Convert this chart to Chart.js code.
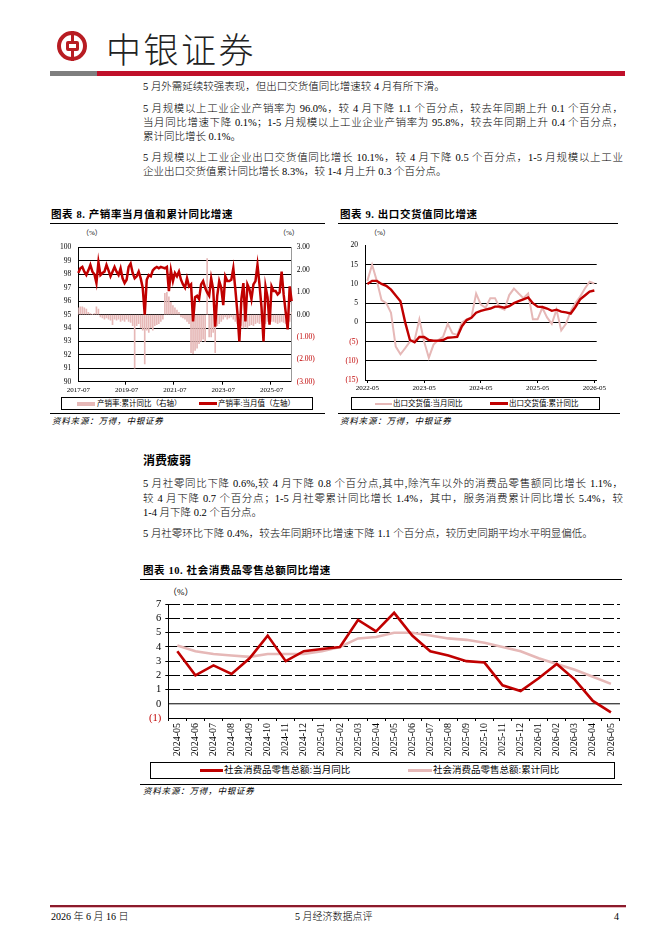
<!DOCTYPE html>
<html>
<head>
<meta charset="utf-8">
<script src="https://cdn.jsdelivr.net/npm/chart.js@4.4.1/dist/chart.umd.min.js"></script>
<style>
body{margin:0;background:#fff;}
#page{position:relative;width:662px;height:936px;overflow:hidden;font-family:"Liberation Serif","Noto Sans CJK SC",serif;color:#000;}
.a{position:absolute;}
.ln{position:absolute;left:143px;width:480px;font-size:10.5px;line-height:14px;white-space:nowrap;font-weight:300;}
.j{text-align:justify;text-align-last:justify;}
.ttl{position:absolute;font-size:10.5px;line-height:14px;font-weight:700;letter-spacing:0.6px;white-space:nowrap;}
.rule{position:absolute;height:1px;background:#000;}
.src{position:absolute;font-size:8.5px;line-height:10px;font-style:italic;letter-spacing:0.8px;white-space:nowrap;}
.lgbox{position:absolute;border:1px solid #000;box-sizing:border-box;}
.lg{position:absolute;font-size:7.5px;line-height:10px;white-space:nowrap;}
.sw{position:absolute;}
.pc{position:absolute;font-size:7px;line-height:8px;white-space:nowrap;}
.box{position:absolute;}
</style>
</head>
<body>
<div id="page">
  <!-- 页眉 -->
  <div class="a" style="left:57px;top:31px;width:30px;height:30px;border-radius:50%;border:4.5px solid #B81C22;box-sizing:border-box;"></div>
  <div class="a" style="left:70.5px;top:31px;width:3px;height:30px;background:#B81C22;"></div>
  <div class="a" style="left:65.5px;top:41px;width:13px;height:10px;border:3px solid #B81C22;border-radius:2px;box-sizing:border-box;background:#fff;"></div>
  <div class="a" style="left:106px;top:29px;font-size:35px;line-height:38px;letter-spacing:2.5px;color:#222;font-family:'Noto Sans CJK SC';font-weight:300;">中银证券</div>
  <div class="a" style="left:50px;top:71px;width:47px;height:5px;background:#7f7f7f;"></div>
  <div class="a" style="left:97px;top:71px;width:528px;height:5px;background:#C0102A;"></div>

  <!-- 正文 -->
  <div class="ln" style="top:80px;">5 月外需延续较强表现，但出口交货值同比增速较 4 月有所下滑。</div>
  <div class="ln j" style="top:102px;">5 月规模以上工业企业产销率为 96.0%，较 4 月下降 1.1 个百分点，较去年同期上升 0.1 个百分点，</div>
  <div class="ln j" style="top:116px;">当月同比增速下降 0.1%；1-5 月规模以上工业企业产销率为 95.8%，较去年同期上升 0.4 个百分点，</div>
  <div class="ln" style="top:130px;">累计同比增长 0.1%。</div>
  <div class="ln j" style="top:151px;">5 月规模以上工业企业出口交货值同比增长 10.1%，较 4 月下降 0.5 个百分点，1-5 月规模以上工业</div>
  <div class="ln" style="top:165px;">企业出口交货值累计同比增长 8.3%，较 1-4 月上升 0.3 个百分点。</div>

  <!-- 图表 8 -->
  <div class="ttl" style="left:51px;top:208px;">图表 8. 产销率当月值和累计同比增速</div>
  <div class="rule" style="left:50px;top:223px;width:275px;"></div>
  <div class="pc" style="left:82px;top:229px;">（%）</div>
  <div class="pc" style="left:279px;top:229px;">（%）</div>
  <div class="box" style="left:40px;top:236px;width:290px;height:158px;"><canvas id="c8"></canvas></div>
  <div class="lgbox" style="left:61px;top:397px;width:252px;height:13px;"></div>
  <div class="sw" style="left:77px;top:401.5px;width:18px;height:4px;background:#E6B8B7;"></div>
  <div class="lg" style="left:97px;top:398.5px;">产销率:累计同比（右轴）</div>
  <div class="sw" style="left:199px;top:402px;width:18px;height:3px;background:#C00000;"></div>
  <div class="lg" style="left:218px;top:398.5px;">产销率:当月值（左轴）</div>
  <div class="rule" style="left:50px;top:413px;width:275px;"></div>
  <div class="src" style="left:52px;top:416px;">资料来源：万得，中银证券</div>

  <!-- 图表 9 -->
  <div class="ttl" style="left:340px;top:208px;">图表 9. 出口交货值同比增速</div>
  <div class="rule" style="left:338px;top:223px;width:280px;"></div>
  <div class="pc" style="left:370px;top:229px;">（%）</div>
  <div class="box" style="left:330px;top:234px;width:290px;height:160px;"><canvas id="c9"></canvas></div>
  <div class="lgbox" style="left:351px;top:397px;width:249px;height:13px;"></div>
  <div class="sw" style="left:375px;top:402.5px;width:17px;height:2px;background:#E6B8B7;"></div>
  <div class="lg" style="left:393px;top:398.5px;">出口交货值:当月同比</div>
  <div class="sw" style="left:490px;top:402px;width:18px;height:3px;background:#C00000;"></div>
  <div class="lg" style="left:509px;top:398.5px;">出口交货值:累计同比</div>
  <div class="rule" style="left:338px;top:413px;width:282px;"></div>
  <div class="src" style="left:340px;top:416px;">资料来源：万得，中银证券</div>

  <!-- 消费 -->
  <div class="a" style="left:143px;top:453px;font-size:12px;line-height:16px;font-weight:700;">消费疲弱</div>
  <div class="ln j" style="top:477px;">5 月社零同比下降 0.6%,较 4 月下降 0.8 个百分点,其中,除汽车以外的消费品零售额同比增长 1.1%，</div>
  <div class="ln j" style="top:491.5px;">较 4 月下降 0.7 个百分点；1-5 月社零累计同比增长 1.4%，其中，服务消费累计同比增长 5.4%，较</div>
  <div class="ln" style="top:506px;">1-4 月下降 0.2 个百分点。</div>
  <div class="ln" style="top:527px;">5 月社零环比下降 0.4%，较去年同期环比增速下降 1.1 个百分点，较历史同期平均水平明显偏低。</div>

  <!-- 图表 10 -->
  <div class="ttl" style="left:143px;top:564px;">图表 10. 社会消费品零售总额同比增速</div>
  <div class="rule" style="left:140px;top:579px;width:482px;"></div>
  <div class="a" style="left:168px;top:587px;font-size:9px;line-height:10px;">（%）</div>
  <div class="box" style="left:135px;top:594px;width:490px;height:164px;"><canvas id="c10"></canvas></div>
  <div class="lgbox" style="left:150px;top:762px;width:465px;height:17px;"></div>
  <div class="sw" style="left:200px;top:769px;width:23px;height:3px;background:#C00000;"></div>
  <div class="a" style="left:224px;top:765px;font-size:9.5px;line-height:11px;white-space:nowrap;">社会消费品零售总额:当月同比</div>
  <div class="sw" style="left:408px;top:769px;width:24px;height:3px;background:#E6B8B7;"></div>
  <div class="a" style="left:433px;top:765px;font-size:9.5px;line-height:11px;white-space:nowrap;">社会消费品零售总额:累计同比</div>
  <div class="rule" style="left:140px;top:784px;width:482px;"></div>
  <div class="src" style="left:143px;top:786px;">资料来源：万得，中银证券</div>

  <!-- 页脚 -->
  <div class="a" style="left:50px;top:905px;width:576px;height:1.5px;background:#8B1A2B;"></div>
  <div class="a" style="left:50px;top:906.5px;width:576px;height:1px;background:#e8b8bf;"></div>
  <div class="a" style="left:51px;top:911px;font-size:10px;line-height:12px;font-weight:300;">2026 年 6 月 16 日</div>
  <div class="a" style="left:295px;top:911px;font-size:10px;line-height:12px;font-weight:300;">5 月经济数据点评</div>
  <div class="a" style="left:614px;top:911px;font-size:10px;line-height:12px;">4</div>
</div>

<script>
// 月份标签
function monthLabels(y, m, n) {
  var out = [];
  for (var i = 0; i < n; i++) {
    var k = m - 1 + i;
    out.push((y + Math.floor(k / 12)) + '-' + String(k % 12 + 1).padStart(2, '0'));
  }
  return out;
}

// 图表 8 数据：2017-07 ~ 2026-05
var months8 = monthLabels(2017, 7, 107);
var rateMonth = [
  98.1, 98.45, 98.55, 98.2, 97.95, 98.3, 98.7, 98.2, 98.0, 97.35,
  98.9, 97.95, 98.1, 98.2, 98.7, 98.3, 97.85, 98.2, 98.55, 98.2,
  97.95, 98.45, 97.7, 97.35, 97.6, 98.55, 98.8, 98.1, 97.7, 97.85,
  98.2, 97.7, 97.0, 95.0, 97.6, 97.95, 97.85, 98.3, 98.45, 98.55,
  98.45, 98.55, 98.5, 98.45, 98.55, 96.75, 98.3, 97.5, 98.1, 97.85,
  98.2, 97.6, 97.25, 97.0, 97.7, 97.1, 97.25, 94.5, 96.3, 96.4,
  96.15, 97.25, 97.5, 97.0, 96.65, 96.4, 97.7, 96.9, 94.1, 96.4,
  97.5, 97.0, 95.7, 97.85, 97.5, 97.5, 97.6, 98.45, 96.9, 95.2,
  93.0, 96.15, 97.35, 94.5, 97.25, 96.9, 96.15, 97.25, 97.5, 98.7,
  97.25, 95.55, 93.0, 97.1, 96.3, 94.25, 97.1, 96.75, 96.75, 96.5,
  96.65, 98.2, 96.5, 95.2, 93.9, 97.1, 96.0
];
var rateCum = [
  0.3, 0.35, 0.35, 0.3, 0.25, 0.1, 0.05, 0.0, 0.05, 0.35,
  0.25, -0.1, -0.15, -0.2, -0.15, -0.2, -0.25, -0.45, -0.2, -0.25,
  -0.2, -0.3, -0.25, -0.3, -0.2, -0.3, -0.35, -0.5, -2.4, -0.5,
  -0.4, -0.6, -0.7, -2.2, -0.7, -0.8, -0.6, -0.7, -0.5, -0.45,
  -0.4, -0.3, -0.2, 0.95, 1.0, 0.8, 0.55, 0.4, 0.3, 0.2,
  0.1, -0.1, -0.15, -0.2, -0.3, -0.4, -1.7, -1.75, -1.6, -1.5,
  -1.3, -1.2, -1.1, -1.2, 2.5, -1.0, -1.0, -0.8, -1.7, -0.5,
  -0.4, -0.3, -0.2, -0.1, -0.2, -0.15, -0.1, -0.2, -0.3, -0.4,
  -0.35, -0.5, -0.6, -0.55, -0.6, -0.5, -0.45, -0.5, -0.4, -0.35,
  -0.4, -0.3, -0.35, -0.4, -0.3, -0.35, -0.3, -0.3, -0.35, -0.4,
  -0.35, -0.3, -0.35, -0.4, -0.4, -0.3, 0.1
];

// 图表 9 数据：2022-05 ~ 2026-05
var months9 = monthLabels(2022, 5, 49);
var exportMonth = [
  10.8, 15.0, 10.8, 5.8, 5.0, 2.5, -6.3, -8.3, -6.7, -5.0,
  -4.6, 0.8, -5.0, -9.2, -5.8, -4.6, -3.8, -0.4, -2.9, -3.3,
  0.0, 0.8, 1.3, 7.5, 4.6, 3.8, 6.3, 6.3, 3.8, 3.3,
  7.1, 8.8, 7.5, 6.3, 7.5, 0.8, 0.8, 3.8, 1.3, -0.4,
  3.3, -2.1, -0.4, 2.9, 5.0, 6.7, 8.8, 10.6, 10.1
];
var exportCum = [
  10.0, 10.8, 10.8, 10.0, 9.5, 8.5, 7.0, 5.5, 0.0, -4.6,
  -5.2, -3.8, -3.8, -4.6, -4.8, -4.8, -4.6, -4.0, -3.9, -3.8,
  -1.0, 0.6, 1.2, 2.5, 3.0, 3.3, 3.6, 4.1, 4.1, 3.8,
  4.2, 5.0, 5.5, 6.0, 6.5, 5.0, 4.1, 4.0, 3.6, 3.0,
  3.3, 2.8, 2.6, 2.3, 4.0, 6.0, 7.0, 8.0, 8.3
];

// 图表 10 数据：2024-05 ~ 2026-05
var months10 = monthLabels(2024, 5, 25);
var retailMonth = [
  3.7, 2.0, 2.7, 2.1, 3.2, 4.8, 3.0, 3.7, 3.85, 4.0,
  5.9, 5.1, 6.4, 4.8, 3.7, 3.4, 3.0, 2.9, 1.3, 0.9,
  1.8, 2.8, 1.7, 0.2, -0.6
];
var retailCum = [
  4.1, 3.7, 3.5, 3.4, 3.3, 3.5, 3.5, 3.5, 3.7, 4.0,
  4.6, 4.7, 5.0, 5.0, 4.8, 4.6, 4.5, 4.3, 4.0, 3.7,
  3.2, 2.8, 2.4, 1.9, 1.4
];

var RED = '#C00000';
var PINK = '#E6B8B7';
var NEG = '#C00000';

Chart.defaults.font.family = "'Liberation Serif','Noto Sans CJK SC',serif";
Chart.defaults.color = '#000';
Chart.defaults.animation = false;

function negLabel(v, digits) {
  return v < 0 ? '(' + Math.abs(v).toFixed(digits) + ')' : v.toFixed(digits);
}

// 图表 8
new Chart(document.getElementById('c8'), {
  type: 'bar',
  data: {
    labels: months8,
    datasets: [{
      type: 'line',
      label: '产销率:当月值(左轴)',
      data: rateMonth,
      yAxisID: 'y',
      borderColor: RED,
      borderWidth: 2.5,
      pointRadius: 0,
      order: 1
    }, {
      type: 'bar',
      label: '产销率:累计同比(右轴)',
      data: rateCum,
      yAxisID: 'y1',
      backgroundColor: PINK,
      barThickness: 1,
      order: 2
    }]
  },
  options: {
    responsive: true,
    maintainAspectRatio: false,
    layout: {padding: {top: 6, left: 0, right: 0, bottom: 0}},
    plugins: {legend: {display: false}, tooltip: {enabled: false}},
    scales: {
      x: {
        offset: false,
        grid: {drawOnChartArea: false, tickLength: 3, color: function (c) { return c.index % 24 === 0 ? '#000' : 'transparent'; }},
        border: {color: '#000'},
        ticks: {
          autoSkip: false, maxRotation: 0, minRotation: 0, padding: 1, font: {size: 7},
          callback: function (v, i) { return i % 24 === 0 ? this.getLabelForValue(v) : ''; }
        },
        afterFit: function (s) { s.height = 12.3; }
      },
      y: {
        position: 'left', min: 90, max: 100,
        ticks: {stepSize: 1, autoSkip: false, font: {size: 7.5}, padding: 7},
        grid: {color: '#000', drawTicks: false},
        border: {color: '#000'},
        afterFit: function (s) { s.width = 38.3; }
      },
      y1: {
        position: 'right', min: -3, max: 3,
        ticks: {
          stepSize: 1, autoSkip: false, font: {size: 7.5}, padding: 5,
          color: function (c) { return c.tick.value < 0 ? NEG : '#000'; },
          callback: function (v) { return negLabel(v, 2); }
        },
        grid: {drawOnChartArea: false, drawTicks: false},
        border: {color: '#999'},
        afterFit: function (s) { s.width = 38.3; }
      }
    }
  }
});

// 图表 9
new Chart(document.getElementById('c9'), {
  type: 'line',
  data: {
    labels: months9,
    datasets: [{
      label: '出口交货值:当月同比',
      data: exportMonth,
      borderColor: PINK,
      borderWidth: 2,
      pointRadius: 0,
      order: 2
    }, {
      label: '出口交货值:累计同比',
      data: exportCum,
      borderColor: RED,
      borderWidth: 2.4,
      pointRadius: 0,
      order: 1
    }]
  },
  options: {
    responsive: true,
    maintainAspectRatio: false,
    layout: {padding: {top: 6, left: 0, right: 23.3, bottom: 0}},
    plugins: {legend: {display: false}, tooltip: {enabled: false}},
    scales: {
      x: {
        offset: true,
        grid: {offset: false, drawOnChartArea: false, tickLength: 3, color: function (c) { return c.index % 12 === 0 ? '#000' : 'transparent'; }},
        border: {color: '#000'},
        ticks: {
          autoSkip: false, maxRotation: 0, minRotation: 0, padding: 1, font: {size: 7},
          callback: function (v, i) { return i % 12 === 0 ? this.getLabelForValue(v) : ''; }
        },
        afterFit: function (s) { s.height = 14; }
      },
      y: {
        min: -15, max: 20,
        ticks: {
          stepSize: 5, autoSkip: false, font: {size: 7.5}, padding: 7,
          color: function (c) { return c.tick.value < 0 ? NEG : '#000'; },
          callback: function (v) { return negLabel(v, 0); }
        },
        grid: {drawTicks: false, color: function (c) { return c.tick.value === 20 ? 'transparent' : '#000'; }},
        border: {color: '#000'},
        afterFit: function (s) { s.width = 35; }
      }
    }
  }
});

// 图表 10：零轴实线
var zeroLine = {
  id: 'zeroLine',
  beforeDatasetsDraw: function (chart) {
    var y = chart.scales.y.getPixelForValue(0);
    var area = chart.chartArea;
    var ctx = chart.ctx;
    ctx.save();
    ctx.strokeStyle = '#000';
    ctx.lineWidth = 1;
    ctx.beginPath();
    ctx.moveTo(area.left, y);
    ctx.lineTo(area.right, y);
    ctx.stroke();
    ctx.restore();
  }
};

new Chart(document.getElementById('c10'), {
  type: 'line',
  data: {
    labels: months10,
    datasets: [{
      label: '社会消费品零售总额:当月同比',
      data: retailMonth,
      borderColor: RED,
      borderWidth: 2.6,
      pointRadius: 0,
      order: 1
    }, {
      label: '社会消费品零售总额:累计同比',
      data: retailCum,
      borderColor: PINK,
      borderWidth: 2.6,
      pointRadius: 0,
      order: 2
    }]
  },
  plugins: [zeroLine],
  options: {
    responsive: true,
    maintainAspectRatio: false,
    layout: {padding: {top: 6.7, left: 0, right: 3, bottom: 0}},
    plugins: {legend: {display: false}, tooltip: {enabled: false}},
    scales: {
      x: {
        offset: true,
        grid: {offset: true, drawOnChartArea: false, tickLength: 3, color: '#000'},
        border: {color: '#000'},
        ticks: {autoSkip: false, maxRotation: 90, minRotation: 90, padding: 2, font: {size: 10}},
        afterFit: function (s) { s.height = 40; }
      },
      y: {
        min: -1, max: 7,
        ticks: {
          stepSize: 1, autoSkip: false, font: {size: 10.5}, padding: 4,
          color: function (c) { return c.tick.value < 0 ? NEG : '#000'; },
          callback: function (v) { return negLabel(v, 0); }
        },
        grid: {tickLength: 3, color: function (c) { return (c.tick.value === 0 || c.tick.value === -1) ? 'transparent' : '#000'; }},
        border: {color: '#000', dash: [11, 3]},
        afterFit: function (s) { s.width = 33.3; }
      }
    }
  }
});
</script>
</body>
</html>
